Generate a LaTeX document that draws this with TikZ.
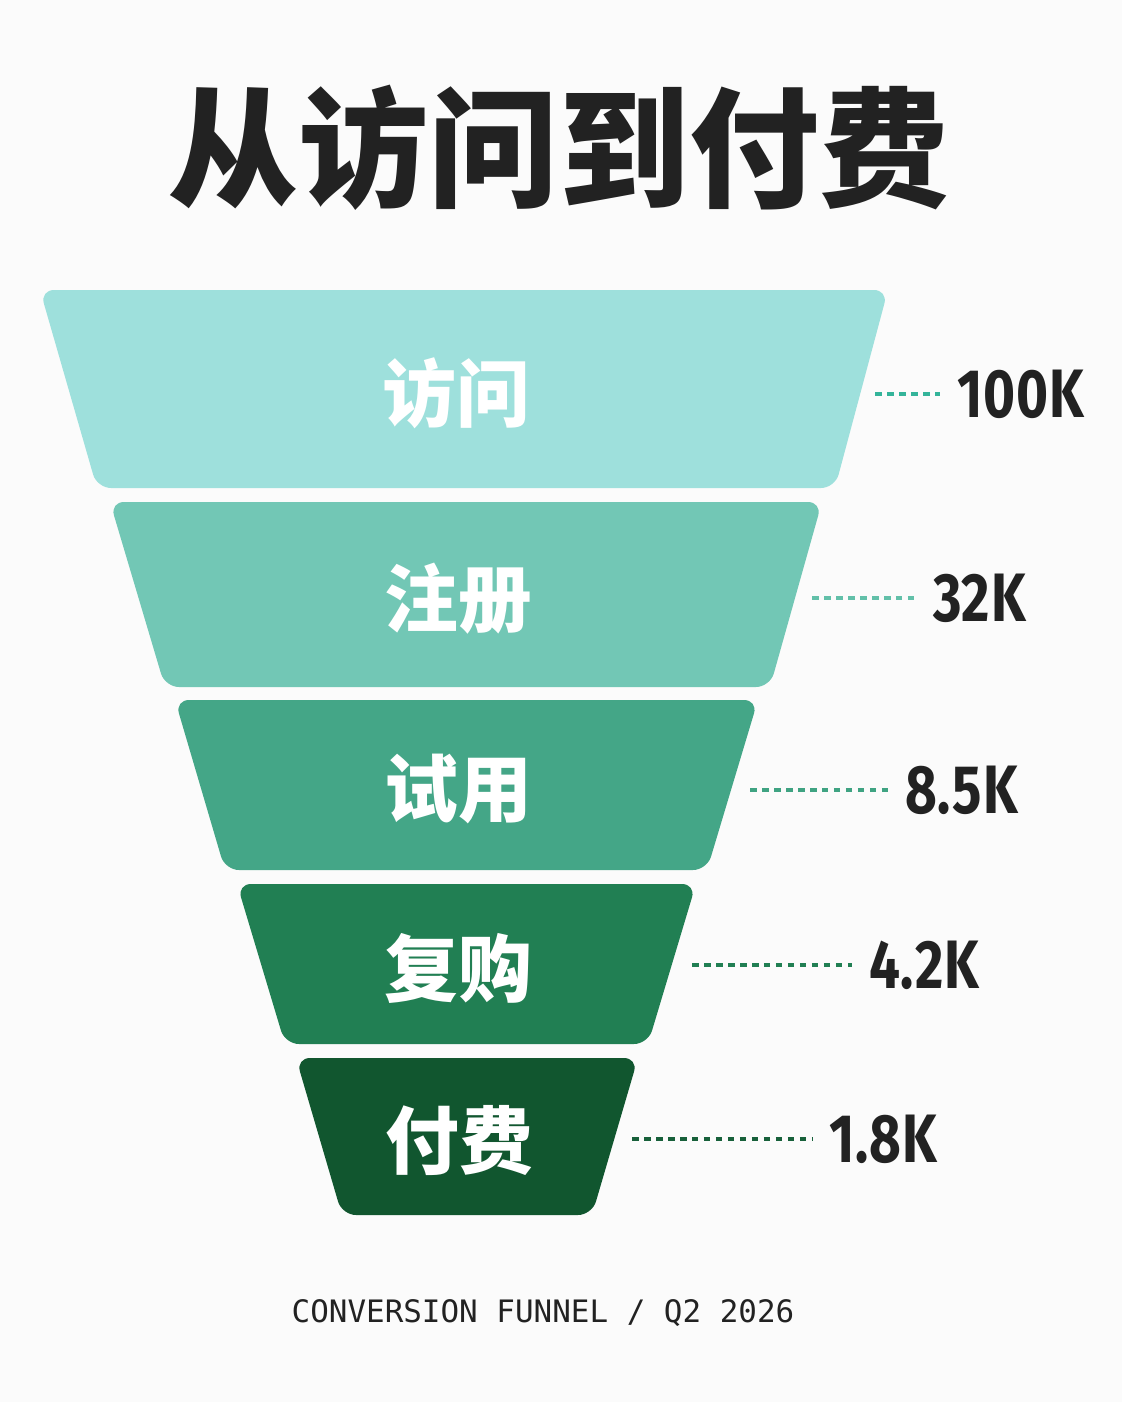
\documentclass[tikz,border=0pt]{standalone}
\usepackage{fontspec}
\newfontfamily\cjk{Noto Sans CJK SC}
\newfontfamily\numfont[FakeStretch=0.8,LetterSpace=1.5]{Fira Sans}
\setmonofont{DejaVu Sans Mono}
\usetikzlibrary{positioning}
\definecolor{paper}{HTML}{FBFBFB}
\definecolor{ink}{HTML}{222222}
\definecolor{stageA}{HTML}{9EE0DC}
\definecolor{stageB}{HTML}{72C7B5}
\definecolor{stageC}{HTML}{44A687}
\definecolor{stageD}{HTML}{217F53}
\definecolor{stageE}{HTML}{11562F}
\definecolor{leadA}{HTML}{34B49A}
\definecolor{leadB}{HTML}{62C0A9}
\definecolor{leadC}{HTML}{3FA382}
\definecolor{leadD}{HTML}{217F53}
\definecolor{leadE}{HTML}{17603A}
\tikzset{
  stagebox/.style={fill=#1, rounded corners=0.28cm},
  stagelabel/.style={text=white, inner sep=0pt, font=\cjk\bfseries\fontsize{42}{42}\selectfont},
  value/.style={anchor=west, inner sep=0pt, outer sep=0.34cm, text=ink, font=\numfont\bfseries\fontsize{39}{39}\selectfont},
  leader/.style={draw=#1, line width=0.065cm, dash pattern=on 0.13cm off 0.11cm},
  title/.style={text=ink, font=\cjk\bfseries\fontsize{74}{74}\selectfont},
  footer/.style={text=ink, font=\ttfamily\fontsize{17.6}{17.6}\selectfont}
}

\begin{document}
\begin{tikzpicture}[x=0.02cm, y=-0.02cm]
    % Page
    \fill[paper] (0,0) rectangle (1122,1402);
    \useasboundingbox (0,0) rectangle (1122,1402);

    % Title
    \node[title] (head) at (559,148) {从访问到付费};

    % Funnel stages
    \foreach \n/\yt/\yb/\tl/\tr/\bl/\br/\col/\lab in {
        a/290/488/40/888/97/835/stageA/访问,
        b/502/687/110/822/165/770/stageB/注册,
        c/700/870/175/758/225/707/stageC/试用,
        d/884/1044/237/696/285/648/stageD/复购,
        e/1058/1215/296/638/342/592/stageE/付费} {
        \path[stagebox=\col] (\tl,\yt) -- (\tr,\yt) -- (\br,\yb) -- (\bl,\yb) -- cycle;
        \node[stagelabel] (\n) at ({(\tl+\tr)/2-8},{(\yt+\yb)/2+4}) {\lab};
    }

    % Leaders and counts
    \foreach \n/\y/\xs/\xe/\col/\val in {
        a/394/875/940/leadA/100K,
        b/598/812/916/leadB/32K,
        c/790/750/888/leadC/8.5K,
        d/965/692/852/leadD/4.2K,
        e/1139/632/812/leadE/1.8K} {
        \coordinate (d\n) at (\xs,\y);
        \node[value] (v\n) at (\xe,\y) {\val};
        \draw[leader=\col] (d\n) -- (v\n.west);
    }

    % Footer
    \node[footer] (foot) at (543,1313) {CONVERSION FUNNEL / Q2 2026};
\end{tikzpicture}
\end{document}
